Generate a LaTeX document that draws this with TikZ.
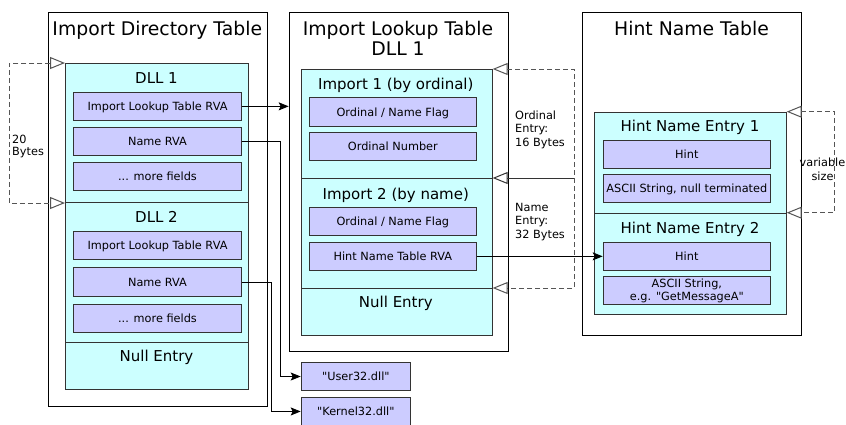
\documentclass[tikz,border=0pt]{standalone}
\usepackage{fontspec}
\setmainfont{DejaVu Sans}[Ligatures=TeXOff]
\usetikzlibrary{arrows.meta}
\definecolor{cy}{HTML}{CCFFFF}
\definecolor{pu}{HTML}{CCCCFF}
\definecolor{dk}{HTML}{333333}
\definecolor{gr}{HTML}{555555}
\begin{document}
\begin{tikzpicture}[x=1pt,y=-1pt,
  outer/.style={draw=black, line width=0.9pt, anchor=north west, inner sep=0pt},
  sect/.style={draw=dk, fill=cy, line width=1pt, anchor=north west, inner sep=0pt, minimum width=#1},
  fldbase/.style={draw=dk, fill=pu, line width=1pt, anchor=north west, inner sep=0pt, minimum width=#1, minimum height=28.3pt, font=\fontsize{11.3}{13.5}\selectfont},
  fld/.style={fldbase=#1, text height=8.2pt, text depth=0pt},
  ttl/.style={anchor=base, inner sep=0pt, font=\fontsize{18.8}{22}\selectfont},
  slbl/.style={anchor=base, inner sep=0pt, font=\fontsize{15}{18}\selectfont},
  note/.style={anchor=north west, inner sep=0pt, font=\fontsize{11.3}{13.4}\selectfont, align=left},
  arr/.style={draw=black, line width=0.9pt, -{Stealth[length=10pt,width=8pt,inset=2pt]}},
  brk/.style={draw=gr, line width=1pt, dash pattern=on 5pt off 3pt, {Triangle[open,fill=white,length=15pt,width=12pt]}-{Triangle[open,fill=white,length=15pt,width=12pt]}},
  tk/.style={draw=dk, line width=1pt, {Triangle[open,fill=white,length=15pt,width=12pt]}-},
]
\clip (0,0) rectangle (846,424);
\fill[white] (0,0) rectangle (846,424);

% ---------- Import Directory Table ----------
\node[outer, minimum width=218.7pt, minimum height=394pt] (idt) at (48,12) {};
\node[ttl] (idtt) at (157.3,35) {Import Directory Table};
\node[sect=183pt, minimum height=139pt] (dll1) at (65,63) {};
\node[sect=183pt, minimum height=140pt] (dll2) at (65,202) {};
\node[sect=183pt, minimum height=47pt] (null1) at (65,342) {};
\node[slbl] (dll1l) at (156.5,83) {DLL 1};
\node[slbl] (dll2l) at (156.5,222.7) {DLL 2};
\node[slbl] (null1l) at (156.5,361.7) {Null Entry};
\node[fld=167.4pt] (ilt1) at (73.3,91.7) {Import Lookup Table RVA};
\node[fld=167.4pt] (name1) at (73.3,126.9) {Name RVA};
\node[fld=167.4pt] (more1) at (73.3,162) {... more fields};
\node[fld=167.4pt] (ilt2) at (73.3,231) {Import Lookup Table RVA};
\node[fld=167.4pt] (name2) at (73.3,267.3) {Name RVA};
\node[fld=167.4pt] (more2) at (73.3,304) {... more fields};
\node[note] (bytes20) at (12,134.5) {20\\[-1pt]Bytes};

% ---------- Import Lookup Table ----------
\node[outer, minimum width=219pt, minimum height=339pt] (ilt) at (288.7,12) {};
\node[ttl] (iltt1) at (398,35) {Import Lookup Table};
\node[ttl] (iltt2) at (398,55) {DLL 1};
\node[sect=191pt, minimum height=109pt] (imp1) at (300.7,69) {};
\node[sect=191pt, minimum height=110pt] (imp2) at (300.7,178) {};
\node[sect=191pt, minimum height=47pt] (null2) at (300.7,288) {};
\node[slbl] (imp1l) at (395.8,89.3) {Import 1 (by ordinal)};
\node[slbl] (imp2l) at (395.8,199) {Import 2 (by name)};
\node[slbl] (null2l) at (395.8,307.3) {Null Entry};
\node[fld=166.7pt] (flag1) at (309,97.3) {Ordinal / Name Flag};
\node[fld=166.7pt] (ordnum) at (309,131.7) {Ordinal Number};
\node[fld=166.7pt] (flag2) at (309,206.7) {Ordinal / Name Flag};
\node[fld=166.7pt] (hntrva) at (309,241.7) {Hint Name Table RVA};
\node[note] (ordsz) at (515,110.7) {Ordinal\\Entry:\\16 Bytes};
\node[note] (namesz) at (515,202.8) {Name\\Entry:\\32 Bytes};

% ---------- Hint Name Table ----------
\node[outer, minimum width=218.7pt, minimum height=323pt] (hnt) at (582,12) {};
\node[ttl] (hntt) at (691.5,35) {Hint Name Table};
\node[sect=191.4pt, minimum height=101pt] (hn1) at (594.3,111.7) {};
\node[sect=191.4pt, minimum height=101.6pt] (hn2) at (594.3,212.7) {};
\node[slbl] (hn1l) at (690,131.7) {Hint Name Entry 1};
\node[slbl] (hn2l) at (690,233.3) {Hint Name Entry 2};
\node[fld=167.3pt] (hint1) at (602.7,140) {Hint};
\node[fld=167.3pt] (ascii1) at (602.7,174) {ASCII String, null terminated};
\node[fld=167.3pt] (hint2) at (602.7,241.7) {Hint};
\node[fldbase=167.3pt, minimum height=28pt, align=center, font=\fontsize{11.3}{13.2}\selectfont] (ascii2) at (602.7,276) {ASCII String,\\e.g. "GetMessageA"};
\node[note, align=center] (varsz) at (799.5,158.1) {variable\\size};

% ---------- DLL names ----------
\node[fld=109.3pt, minimum height=28pt] (user32) at (300.7,362) {"User32.dll"};
\node[fld=109.3pt, minimum height=28.5pt] (kernel32) at (300.7,396.7) {"Kernel32.dll"};

% ---------- connectors ----------
\draw[arr] (ilt1.east) -- (ilt1.east -| ilt.west);
\draw[arr] (name1.east) -- ++(38.5,0) |- (user32.west);
\draw[arr] (name2.east) -- ++(29.5,0) |- (kernel32.west);
\draw[arr] (hntrva.east) -- (hntrva.east -| hint2.west);

\draw[brk] (dll1.north west) -- ++(-56,0) |- (dll1.south west);
\draw[brk] (imp1.north east) -- ++(81.6,0) |- (null2.north east);
\draw[tk] (imp2.north east) -- ++(81.6,0);
\draw[brk] (hn1.north east) -- ++(48,0) |- (hn2.north east);
\end{tikzpicture}
\end{document}
